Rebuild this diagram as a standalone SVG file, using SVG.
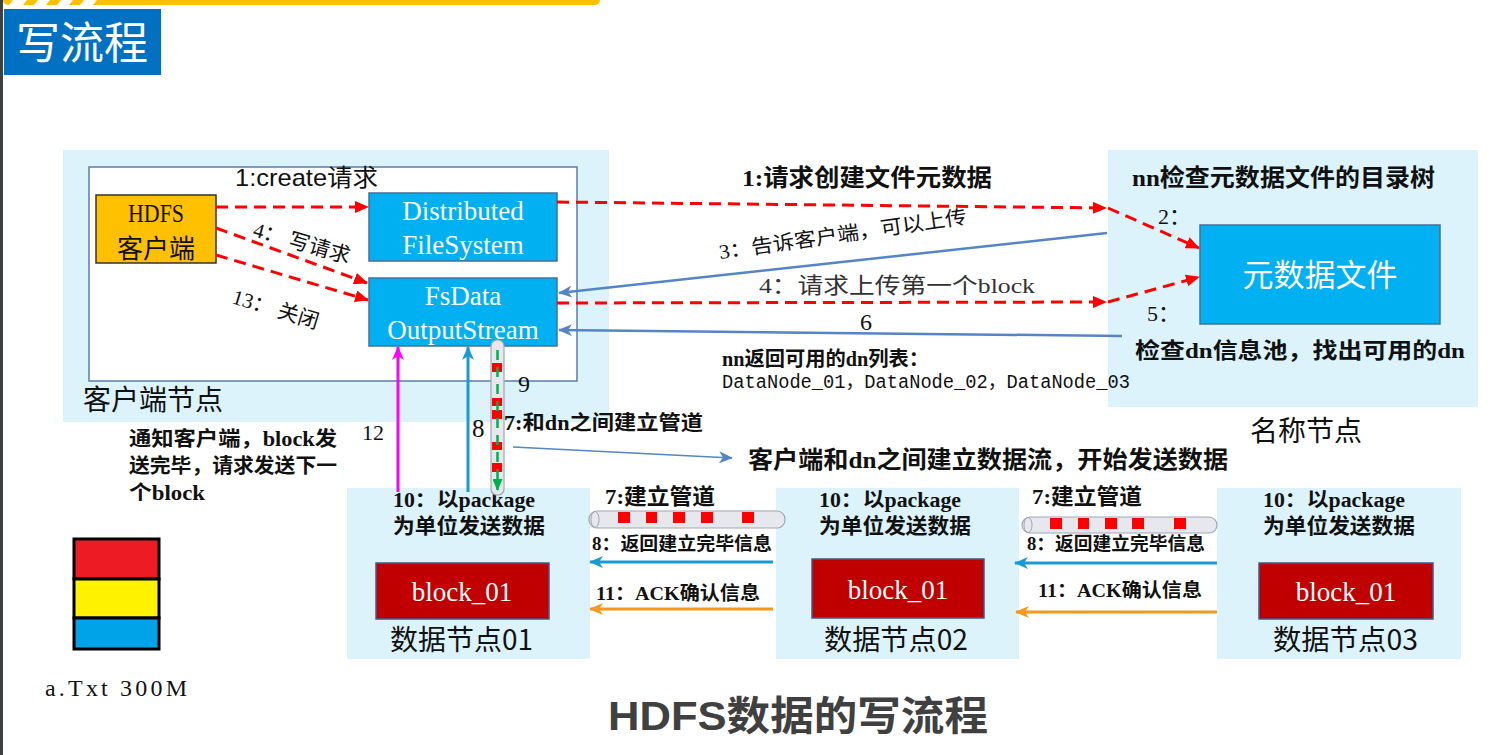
<svg xmlns="http://www.w3.org/2000/svg" width="1491" height="755" viewBox="0 0 1491 755">
<defs>
<style>
.bg{fill:#DCF3FC}
.box{fill:#00B0F0;stroke:#41719C;stroke-width:1.5}
.blk{fill:#C00000;stroke:#41598C;stroke-width:1.5}
.serif{font-family:"Liberation Serif","Noto Sans CJK SC",serif}
.sans{font-family:"Liberation Sans","Noto Sans CJK SC",sans-serif}
.cjk{font-family:"Noto Sans CJK SC",sans-serif}
.mono{font-family:"Liberation Mono","Noto Sans CJK SC",monospace}
.b{font-weight:bold}
.w{fill:#FFFFFF}
.k{fill:#111111}
.red{fill:none;stroke:#FF0000;stroke-width:3;stroke-dasharray:12 7;marker-end:url(#mRed)}
.blue{fill:none;stroke:#5585C5;stroke-width:2.5;marker-end:url(#mBlue)}
.cyan{fill:none;stroke:#1B9AD2;stroke-width:3;marker-end:url(#mCyan)}
.mag{fill:none;stroke:#FF00FF;stroke-width:3;marker-end:url(#mMag)}
.org{fill:none;stroke:#F7981D;stroke-width:3;marker-end:url(#mOrg)}
.pipe{fill:#E6E8EE;stroke:#A0A6B4;stroke-width:1.2}
.sq{fill:#FF0000}
</style>
<marker id="mRed" markerUnits="userSpaceOnUse" markerWidth="14" markerHeight="12" refX="13" refY="6" orient="auto"><path d="M0,0 L14,6 L0,12 z" fill="#FF0000"/></marker>
<marker id="mBlue" markerUnits="userSpaceOnUse" markerWidth="14" markerHeight="12" refX="13" refY="6" orient="auto"><path d="M0,0 L14,6 L0,12 L4,6 z" fill="#5585C5"/></marker>
<marker id="mCyan" markerUnits="userSpaceOnUse" markerWidth="14" markerHeight="12" refX="13" refY="6" orient="auto"><path d="M0,0 L14,6 L0,12 L4,6 z" fill="#1B9AD2"/></marker>
<marker id="mMag" markerUnits="userSpaceOnUse" markerWidth="14" markerHeight="12" refX="13" refY="6" orient="auto"><path d="M0,0 L14,6 L0,12 L4,6 z" fill="#FF00FF"/></marker>
<marker id="mOrg" markerUnits="userSpaceOnUse" markerWidth="14" markerHeight="12" refX="13" refY="6" orient="auto"><path d="M0,0 L14,6 L0,12 L4,6 z" fill="#F7981D"/></marker>
<marker id="mGreen" markerUnits="userSpaceOnUse" markerWidth="12" markerHeight="10" refX="11" refY="5" orient="auto"><path d="M0,0 L12,5 L0,10 z" fill="#00B050"/></marker>
</defs>
<rect x="0" y="0" width="1491" height="755" fill="#FFFFFF"/>
<rect x="0" y="0" width="3" height="755" fill="#3C4043"/>
<g id="topbar">
<rect x="3" y="-6" width="597" height="11" rx="5" fill="#FFC000"/>
<path d="M13,0 L27,0 L23,5 L9,5 z M38,0 L50,0 L46,5 L34,5 z M61,0 L73,0 L69,5 L57,5 z M84,0 L97,0 L93,5 L80,5 z" fill="#FFFFFF"/>
</g>
<g id="title">
<rect x="4" y="9" width="157" height="66" fill="#0070C0"/>
<text x="16" y="59" class="cjk w" font-size="44">写流程</text>
</g>
<g id="client-node">
<rect class="bg" x="63" y="150" width="546" height="272"/>
<rect x="89" y="167" width="488" height="214" fill="#FFFFFF" stroke="#5A7CA8" stroke-width="1.5"/>
<text x="235" y="186" class="sans k" font-size="24" textLength="143" lengthAdjust="spacingAndGlyphs">1:create请求</text>
<text x="83" y="410" class="cjk k" font-size="28">客户端节点</text>
</g>
<g id="hdfs-client">
<rect x="96" y="195" width="120" height="68" fill="#FFC000" stroke="#333333" stroke-width="1.5"/>
<text x="156" y="222" class="serif k" font-size="25" text-anchor="middle" textLength="56" lengthAdjust="spacingAndGlyphs">HDFS</text>
<text x="156" y="258" class="cjk k" font-size="26" text-anchor="middle">客户端</text>
</g>
<g id="dfs">
<rect class="box" x="369" y="193" width="188" height="68"/>
<text x="463" y="220" class="serif w" font-size="27" text-anchor="middle">Distributed</text>
<text x="463" y="254" class="serif w" font-size="27" text-anchor="middle">FileSystem</text>
</g>
<g id="fsdata">
<rect class="box" x="369" y="278" width="188" height="68"/>
<text x="463" y="305" class="serif w" font-size="27" text-anchor="middle">FsData</text>
<text x="463" y="339" class="serif w" font-size="27" text-anchor="middle">OutputStream</text>
</g>
<g id="name-node">
<rect class="bg" x="1108" y="150" width="370" height="257"/>
<text x="1132" y="186" class="serif b k" font-size="24" textLength="303" lengthAdjust="spacingAndGlyphs">nn检查元数据文件的目录树</text>
<text x="1158" y="224" class="serif k" font-size="22">2：</text>
<text x="1147" y="321" class="serif k" font-size="22">5：</text>
<text x="1135" y="358" class="serif b k" font-size="22" textLength="330" lengthAdjust="spacingAndGlyphs">检查dn信息池，找出可用的dn</text>
<text x="1250" y="441" class="cjk k" font-size="28">名称节点</text>
</g>
<g id="meta-file">
<rect class="box" x="1200" y="225" width="240" height="99"/>
<text x="1320" y="286" class="cjk w" font-size="31" text-anchor="middle">元数据文件</text>
</g>
<g id="datanode01">
<rect class="bg" x="347" y="488" width="243" height="171"/>
<text x="393" y="507" class="serif b k" font-size="20" textLength="142" lengthAdjust="spacingAndGlyphs">10：以package</text>
<text x="393" y="533" class="serif b k" font-size="21" textLength="152" lengthAdjust="spacingAndGlyphs">为单位发送数据</text>
<rect class="blk" x="376" y="563" width="173" height="56"/>
<text x="462" y="601" class="serif w" font-size="27" text-anchor="middle">block_01</text>
<text x="390" y="650" class="cjk k" font-size="28" textLength="143" lengthAdjust="spacingAndGlyphs">数据节点01</text>
</g>
<g id="datanode02">
<rect class="bg" x="776" y="488" width="243" height="171"/>
<text x="819" y="507" class="serif b k" font-size="20" textLength="142" lengthAdjust="spacingAndGlyphs">10：以package</text>
<text x="819" y="533" class="serif b k" font-size="21" textLength="152" lengthAdjust="spacingAndGlyphs">为单位发送数据</text>
<rect class="blk" x="812" y="559" width="172" height="59"/>
<text x="898" y="599" class="serif w" font-size="27" text-anchor="middle">block_01</text>
<text x="824" y="650" class="cjk k" font-size="28" textLength="144" lengthAdjust="spacingAndGlyphs">数据节点02</text>
</g>
<g id="datanode03">
<rect class="bg" x="1217" y="488" width="244" height="171"/>
<text x="1263" y="507" class="serif b k" font-size="20" textLength="142" lengthAdjust="spacingAndGlyphs">10：以package</text>
<text x="1263" y="533" class="serif b k" font-size="21" textLength="152" lengthAdjust="spacingAndGlyphs">为单位发送数据</text>
<rect class="blk" x="1259" y="563" width="174" height="56"/>
<text x="1346" y="601" class="serif w" font-size="27" text-anchor="middle">block_01</text>
<text x="1273" y="650" class="cjk k" font-size="28" textLength="145" lengthAdjust="spacingAndGlyphs">数据节点03</text>
</g>
<g id="file-stack">
<rect x="74" y="539" width="85" height="40" fill="#ED1C24" stroke="#000" stroke-width="3"/>
<rect x="74" y="579" width="85" height="39" fill="#FFF200" stroke="#000" stroke-width="3"/>
<rect x="74" y="618" width="85" height="31" fill="#00A2E8" stroke="#000" stroke-width="3"/>
<text x="45" y="696" class="serif k" font-size="24" textLength="142" lengthAdjust="spacing">a.Txt 300M</text>
</g>
<g id="pipes">
<rect class="pipe" x="491" y="340" width="13" height="155" rx="6"/>
<rect class="sq" x="492" y="363" width="10" height="9"/>
<rect class="sq" x="492" y="398" width="10" height="8"/>
<rect class="sq" x="492" y="410" width="10" height="9"/>
<rect class="sq" x="492" y="442" width="10" height="8"/>
<rect class="sq" x="492" y="463" width="10" height="9"/>
<path d="M497.5,350 L497.5,490" fill="none" stroke="#00B050" stroke-width="2.5" stroke-dasharray="10 7" marker-end="url(#mGreen)"/>
<rect class="pipe" x="589" y="511" width="196" height="17" rx="8"/>
<ellipse cx="595" cy="519.5" rx="4" ry="8" fill="none" stroke="#A0A6B4" stroke-width="1"/>
<rect class="sq" x="618" y="512" width="12" height="11"/>
<rect class="sq" x="646" y="512" width="11" height="11"/>
<rect class="sq" x="673" y="512" width="12" height="11"/>
<rect class="sq" x="701" y="512" width="12" height="11"/>
<rect class="sq" x="742" y="512" width="12" height="11"/>
<rect class="pipe" x="1022" y="517" width="195" height="16" rx="8"/>
<ellipse cx="1028" cy="525" rx="4" ry="7.5" fill="none" stroke="#A0A6B4" stroke-width="1"/>
<rect class="sq" x="1050" y="518" width="12" height="11"/>
<rect class="sq" x="1078" y="518" width="11" height="11"/>
<rect class="sq" x="1105" y="518" width="12" height="11"/>
<rect class="sq" x="1132" y="518" width="12" height="11"/>
<rect class="sq" x="1174" y="518" width="12" height="11"/>
</g>
<g id="connectors">
<path class="red" d="M216,207 L368,207"/>
<path class="red" d="M216,228 L367,283"/>
<path class="red" d="M216,255 L368,300"/>
<path class="red" d="M557,202 L1106,208"/>
<path class="red" d="M1108,208 L1199,248"/>
<path class="red" d="M557,303 L1106,302"/>
<path class="red" d="M1108,302 L1199,277"/>
<path class="blue" d="M1107,233 L559,293"/>
<path class="blue" d="M1122,336 L559,330"/>
<path fill="none" stroke="#5585C5" stroke-width="1.5" marker-end="url(#mBlue)" d="M513,447 L732,458"/>
<path class="mag" d="M398,492 L398,347"/>
<path class="cyan" d="M468,492 L468,347"/>
<path class="cyan" d="M773,562 L590,562"/>
<path class="cyan" d="M1217,563 L1015,563"/>
<path class="org" d="M773,609 L590,609"/>
<path class="org" d="M1217,612 L1016,612"/>
</g>
<g id="labels">
<text x="252" y="236" class="serif k" font-size="21" transform="rotate(16 252 236)">4： 写请求</text>
<text x="231" y="303" class="serif k" font-size="21" transform="rotate(17 231 303)">13： 关闭</text>
<text x="742" y="186" class="serif b k" font-size="24" textLength="250" lengthAdjust="spacingAndGlyphs">1:请求创建文件元数据</text>
<text x="720" y="259" class="serif k" font-size="20" textLength="250" lengthAdjust="spacingAndGlyphs" transform="rotate(-8.2 720 259)">3：告诉客户端，可以上传</text>
<text x="759" y="293" class="serif" fill="#333333" font-size="22" textLength="276" lengthAdjust="spacingAndGlyphs">4：请求上传第一个block</text>
<text x="860" y="330" class="serif k" font-size="24">6</text>
<text x="722" y="366" class="serif b k" font-size="20" textLength="207" lengthAdjust="spacingAndGlyphs">nn返回可用的dn列表：</text>
<text x="722" y="388" class="mono k" font-size="20" textLength="408" lengthAdjust="spacingAndGlyphs">DataNode_01，DataNode_02，DataNode_03</text>
<text x="518" y="392" class="serif k" font-size="24">9</text>
<text x="362" y="440" class="serif k" font-size="22">12</text>
<text x="472" y="437" class="serif k" font-size="25">8</text>
<text x="504" y="430" class="serif b k" font-size="20" textLength="199" lengthAdjust="spacingAndGlyphs">7:和dn之间建立管道</text>
<text x="748" y="468" class="serif b k" font-size="24" textLength="480" lengthAdjust="spacingAndGlyphs">客户端和dn之间建立数据流，开始发送数据</text>
<text x="129" y="446" class="serif b k" font-size="20" textLength="208" lengthAdjust="spacingAndGlyphs">通知客户端，block发</text>
<text x="129" y="473" class="serif b k" font-size="20" textLength="208" lengthAdjust="spacingAndGlyphs">送完毕，请求发送下一</text>
<text x="129" y="500" class="serif b k" font-size="20" textLength="76" lengthAdjust="spacingAndGlyphs">个block</text>
<text x="605" y="504" class="serif b k" font-size="22" textLength="110" lengthAdjust="spacingAndGlyphs">7:建立管道</text>
<text x="1032" y="504" class="serif b k" font-size="22" textLength="110" lengthAdjust="spacingAndGlyphs">7:建立管道</text>
<text x="592" y="550" class="serif b k" font-size="18" textLength="180" lengthAdjust="spacingAndGlyphs">8：返回建立完毕信息</text>
<text x="1027" y="550" class="serif b k" font-size="18" textLength="178" lengthAdjust="spacingAndGlyphs">8：返回建立完毕信息</text>
<text x="596" y="600" class="serif b k" font-size="19" textLength="164" lengthAdjust="spacingAndGlyphs">11：ACK确认信息</text>
<text x="1038" y="597" class="serif b k" font-size="19" textLength="164" lengthAdjust="spacingAndGlyphs">11：ACK确认信息</text>
<text x="608" y="730" class="sans b" fill="#404040" font-size="40" textLength="380" lengthAdjust="spacingAndGlyphs">HDFS数据的写流程</text>
</g>
</svg>
